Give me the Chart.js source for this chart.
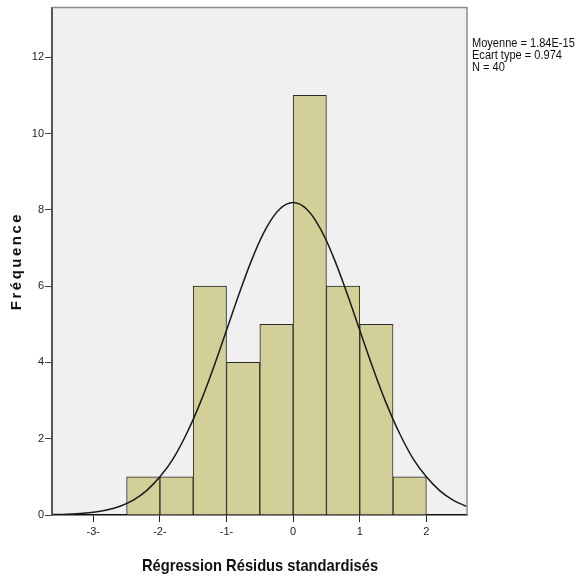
<!DOCTYPE html>
<html>
<head>
<meta charset="utf-8">
<script src="https://cdn.jsdelivr.net/npm/chart.js@4"></script>
<style>
  html, body { margin: 0; padding: 0; background: #fff; }
  #wrap { width: 576px; height: 578px; }
</style>
</head>
<body>
<div id="wrap"><canvas id="histChart" width="576" height="578"></canvas></div>
<script>
// histogram bins (centres, width 0.5) and counts
const binCenters = [-2.25, -1.75, -1.25, -0.75, -0.25, 0.25, 0.75, 1.25, 1.75];
const binCounts = [1, 1, 6, 4, 5, 11, 6, 5, 1];

// normal curve
const curveX = [-3.6, -3.4, -3.2, -3.0, -2.8, -2.6, -2.4, -2.2, -2.0, -1.8, -1.6, -1.4, -1.2, -1.0, -0.8, -0.6, -0.4, -0.2, 0,
  0.2, 0.4, 0.6, 0.8, 1.0, 1.2, 1.4, 1.6, 1.8, 2.0, 2.2, 2.4, 2.6];
const curveY = [0.01, 0.02, 0.04, 0.07, 0.13, 0.23, 0.39, 0.64, 1.0, 1.48, 2.13, 2.92, 3.84, 4.84, 5.85, 6.78, 7.53, 8.02, 8.19,
  8.02, 7.53, 6.78, 5.85, 4.84, 3.84, 2.92, 2.13, 1.48, 1.0, 0.64, 0.39, 0.23];

const xTickValues = [-3, -2, -1, 0, 1, 2];
const xTickLabels = ['-3-', '-2-', '-1-', '0', '1', '2'];
const yTickValues = [0, 2, 4, 6, 8, 10, 12];
const statsLines = ['Moyenne = 1.84E-15', 'Ecart type = 0.974', 'N = 40'];
const xTitle = 'Régression Résidus standardisés';
const yTitle = 'Fréquence';

const sans = '"Liberation Sans", Arial, sans-serif';

// no narrow font installed: squeeze text horizontally
function narrowText(ctx, text, x, y, sx) {
  ctx.save();
  ctx.translate(x, y);
  ctx.scale(sx, 1);
  ctx.fillText(text, 0, 0);
  ctx.restore();
}

const plotFrame = {
  id: 'plotFrame',
  beforeDraw(chart) {
    const { ctx, chartArea: a } = chart;
    ctx.save();
    ctx.fillStyle = '#f0f0f0';
    ctx.fillRect(a.left, a.top, a.right - a.left, a.bottom - a.top);
    ctx.restore();
  },
  afterDraw(chart) {
    const { ctx, chartArea: a } = chart;
    ctx.save();
    ctx.strokeStyle = '#8c8c8c';
    ctx.lineWidth = 1.5;
    ctx.beginPath();
    ctx.moveTo(a.left, a.top);
    ctx.lineTo(a.right, a.top);
    ctx.lineTo(a.right, a.bottom);
    ctx.stroke();

    ctx.fillStyle = '#111';
    ctx.textBaseline = 'middle';
    ctx.textAlign = 'left';
    ctx.font = '12px ' + sans;
    statsLines.forEach((t, i) => narrowText(ctx, t, a.right + 5, 44 + i * 12, 0.92));

    // x title
    ctx.textAlign = 'center';
    ctx.font = 'bold 17px ' + sans;
    narrowText(ctx, xTitle, 260, 566, 0.865);

    // y title
    ctx.translate(17, 261);
    ctx.rotate(-Math.PI / 2);
    ctx.font = 'bold 15px ' + sans;
    ctx.letterSpacing = '2.5px';
    ctx.fillText(yTitle, 0, 0);
    ctx.restore();
  }
};

new Chart(document.getElementById('histChart'), {
  type: 'bar',
  data: {
    datasets: [{
      type: 'line',
      data: curveX.map((x, i) => ({ x: x, y: curveY[i] })),
      borderColor: '#1a1a1a',
      borderWidth: 1.5,
      pointRadius: 0,
      tension: 0.4,
      order: 0
    }, {
      type: 'bar',
      data: binCenters.map((x, i) => ({ x: x, y: binCounts[i] })),
      backgroundColor: '#d3cf98',
      borderColor: '#2b2b2b',
      borderWidth: 1,
      barPercentage: 1,
      categoryPercentage: 1,
      order: 1
    }]
  },
  options: {
    responsive: false,
    animation: false,
    layout: { padding: { top: 7, right: 109, left: 0, bottom: 0 } },
    plugins: { legend: { display: false }, tooltip: { enabled: false } },
    scales: {
      x: {
        type: 'linear',
        min: -3.62,
        max: 2.61,
        offset: false,
        afterBuildTicks: s => { s.ticks = xTickValues.map(v => ({ value: v })); },
        afterFit: s => { s.height = 63; },
        ticks: {
          callback: (v, i) => xTickLabels[i],
          autoSkip: false,
          maxRotation: 0,
          padding: 3,
          color: '#222',
          font: { family: sans, size: 11 }
        },
        grid: { drawOnChartArea: false, tickLength: 7, color: '#222', offset: false },
        border: { color: '#111', width: 1.5 }
      },
      y: {
        min: 0,
        max: 13.3,
        afterBuildTicks: s => { s.ticks = yTickValues.map(v => ({ value: v })); },
        afterFit: s => { s.width = 52; },
        ticks: {
          padding: 1,
          color: '#222',
          font: { family: sans, size: 11 }
        },
        grid: { drawOnChartArea: false, tickLength: 7, color: '#444' },
        border: { color: '#555', width: 2 }
      }
    }
  },
  plugins: [plotFrame]
});
</script>
</body>
</html>
